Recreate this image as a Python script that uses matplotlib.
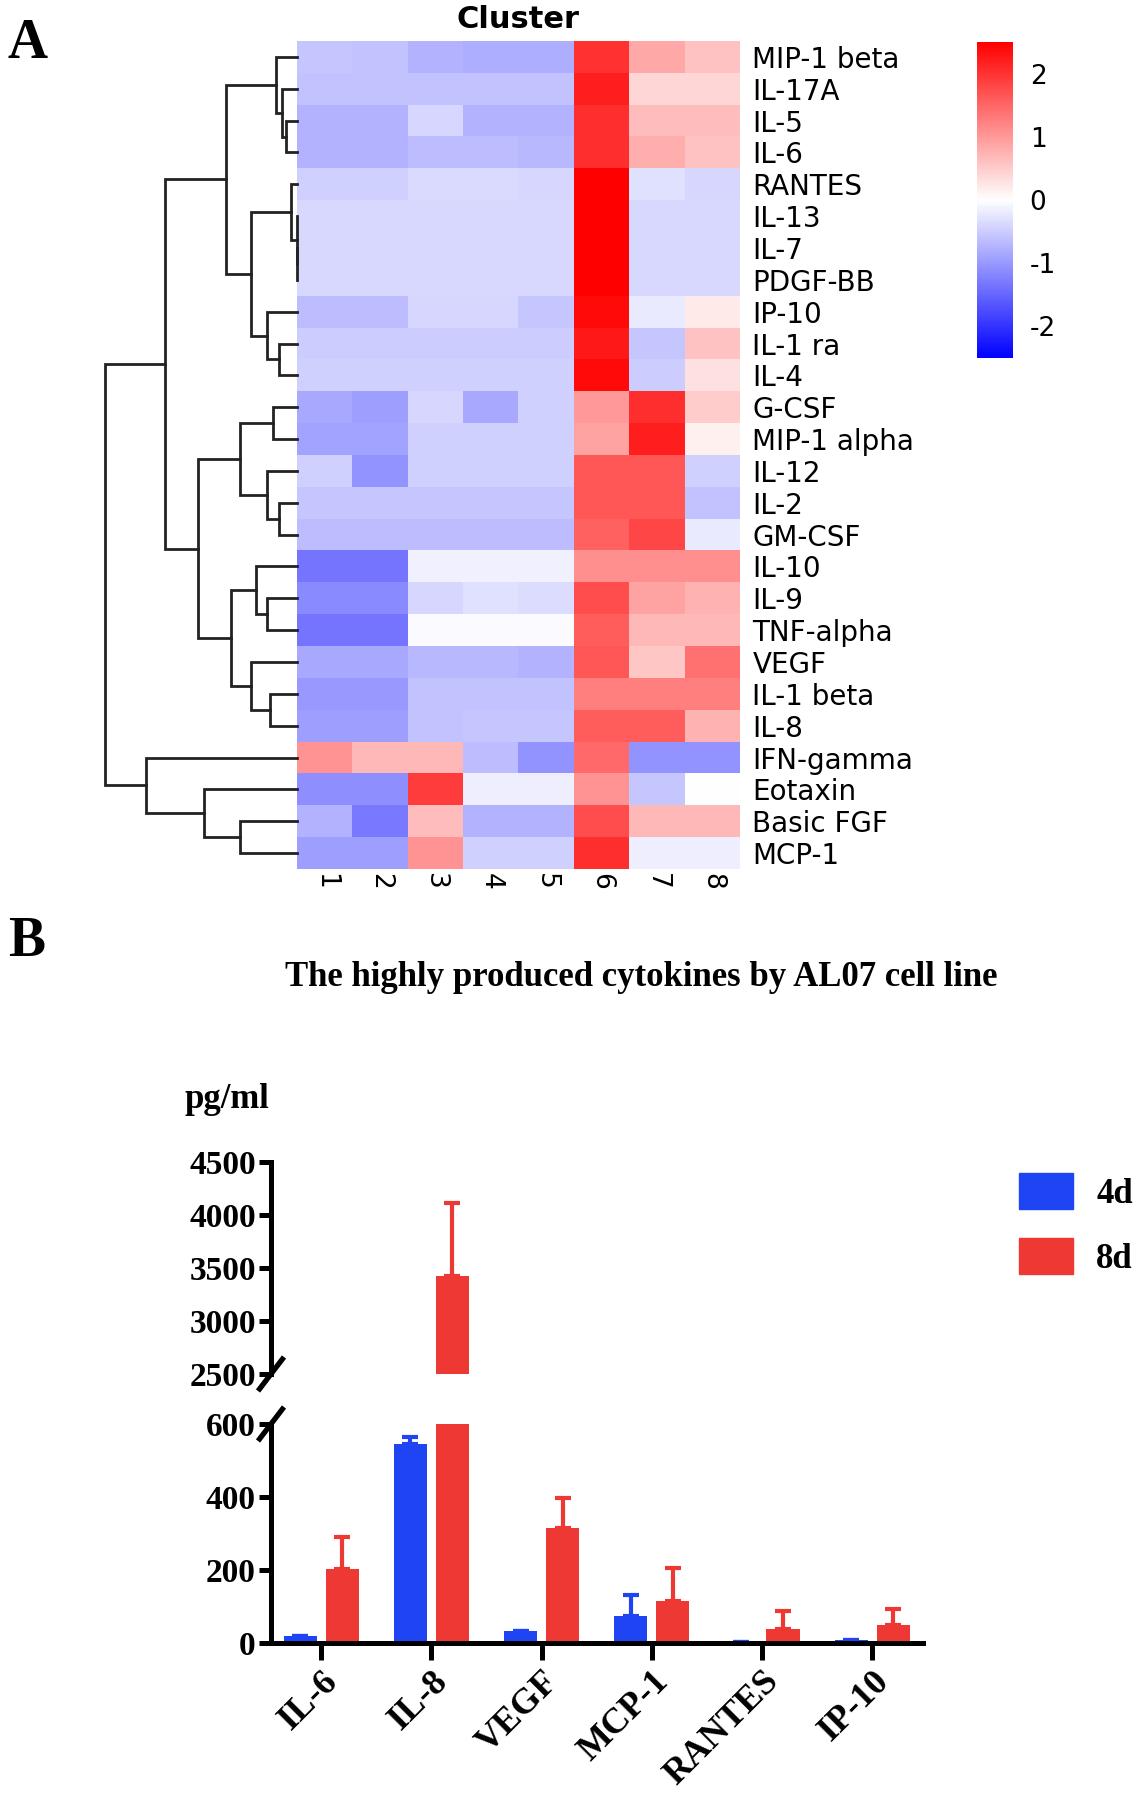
import numpy as np
import matplotlib
matplotlib.use('Agg')
import matplotlib.pyplot as plt
from matplotlib.colors import LinearSegmentedColormap
from matplotlib.patches import Patch

plt.rcParams['axes.unicode_minus'] = False

# ---- Panel A: z-scored cytokine levels per sample ----
cytokines = ['MIP-1 beta', 'IL-17A', 'IL-5', 'IL-6', 'RANTES', 'IL-13', 'IL-7',
             'PDGF-BB', 'IP-10', 'IL-1 ra', 'IL-4', 'G-CSF', 'MIP-1 alpha',
             'IL-12', 'IL-2', 'GM-CSF', 'IL-10', 'IL-9', 'TNF-alpha', 'VEGF',
             'IL-1 beta', 'IL-8', 'IFN-gamma', 'Eotaxin', 'Basic FGF', 'MCP-1']
samples = ['1', '2', '3', '4', '5', '6', '7', '8']
z_scores = [
    [-0.55, -0.60, -0.75, -0.80, -0.80, 2.00, 0.85, 0.60],
    [-0.60, -0.60, -0.60, -0.60, -0.60, 2.20, 0.40, 0.40],
    [-0.75, -0.75, -0.40, -0.75, -0.75, 2.05, 0.65, 0.65],
    [-0.75, -0.75, -0.65, -0.65, -0.70, 2.05, 0.80, 0.60],
    [-0.45, -0.45, -0.36, -0.36, -0.40, 2.60, -0.30, -0.40],
    [-0.38, -0.38, -0.38, -0.38, -0.38, 2.65, -0.38, -0.38],
    [-0.38, -0.38, -0.38, -0.38, -0.38, 2.65, -0.38, -0.38],
    [-0.38, -0.38, -0.38, -0.38, -0.38, 2.65, -0.38, -0.38],
    [-0.65, -0.65, -0.40, -0.40, -0.55, 2.40, -0.20, 0.20],
    [-0.50, -0.50, -0.50, -0.50, -0.50, 2.25, -0.55, 0.60],
    [-0.45, -0.45, -0.45, -0.45, -0.45, 2.40, -0.50, 0.30],
    [-0.85, -0.95, -0.40, -0.85, -0.45, 1.00, 2.05, 0.50],
    [-0.90, -0.90, -0.45, -0.45, -0.45, 0.90, 2.20, 0.15],
    [-0.45, -1.05, -0.45, -0.45, -0.45, 1.65, 1.65, -0.45],
    [-0.56, -0.56, -0.56, -0.56, -0.56, 1.65, 1.65, -0.60],
    [-0.65, -0.65, -0.65, -0.65, -0.65, 1.55, 1.80, -0.20],
    [-1.35, -1.35, -0.15, -0.15, -0.15, 1.10, 1.10, 1.10],
    [-1.15, -1.15, -0.40, -0.30, -0.35, 1.75, 0.90, 0.75],
    [-1.35, -1.35, -0.05, -0.05, -0.05, 1.60, 0.70, 0.70],
    [-0.85, -0.85, -0.70, -0.70, -0.75, 1.65, 0.55, 1.40],
    [-1.00, -1.00, -0.60, -0.60, -0.60, 1.25, 1.25, 1.25],
    [-0.95, -0.95, -0.60, -0.56, -0.56, 1.60, 1.60, 0.75],
    [1.05, 0.70, 0.70, -0.65, -1.05, 1.45, -1.05, -1.05],
    [-1.10, -1.10, 1.90, -0.17, -0.17, 1.05, -0.55, 0.00],
    [-0.75, -1.30, 0.65, -0.75, -0.75, 1.75, 0.70, 0.70],
    [-0.95, -0.95, 1.05, -0.45, -0.45, 2.05, -0.17, -0.17],
]
# row clustering: (child a, child b, height); leaves are 0-25, merges numbered from 26
row_linkage = [
    (2, 3, 28), (1, 26, 40), (0, 27, 56),
    (6, 7, 0), (5, 29, 0), (4, 30, 16),
    (9, 10, 48), (8, 32, 78), (31, 33, 121), (28, 34, 186),
    (11, 12, 63), (14, 15, 48), (13, 37, 78), (36, 38, 150),
    (17, 18, 78), (16, 40, 108), (20, 21, 70), (19, 42, 121),
    (41, 43, 173), (39, 44, 260), (35, 45, 346),
    (24, 25, 150), (23, 47, 243), (22, 48, 396), (46, 49, 503),
]

# ---- Panel B: highly produced cytokines (pg/ml) ----
cytokines_b = ['IL-6', 'IL-8', 'VEGF', 'MCP-1', 'RANTES', 'IP-10']
mean_4d = [20, 545, 32, 75, 4, 8]
err_4d = [0, 19, 0, 56, 0, 0]
mean_8d = [202, 3420, 316, 116, 38, 48]
err_8d = [88, 690, 80, 89, 49, 45]

fig = plt.figure(figsize=(11.4, 18), dpi=100)
W, H = 1140, 1800


def box(x0, y0, x1, y1):
    # pixel box (top-left origin) -> figure fraction rect
    return [x0 / W, 1 - y1 / H, (x1 - x0) / W, (y1 - y0) / H]


sans = 'DejaVu Sans'
serif = 'Liberation Serif'

# heatmap
ax_h = fig.add_axes(box(297, 41, 740, 869))
cmap = LinearSegmentedColormap.from_list('bwr_gp', ['#0000ff', '#ffffff', '#ff0000'])
im = ax_h.imshow(np.array(z_scores), cmap=cmap, vmin=-2.5, vmax=2.5,
                 aspect='auto', interpolation='nearest')
ax_h.set_xticks(range(len(samples)))
ax_h.set_xticklabels(samples, rotation=270, fontsize=19, family=sans, va='top')
ax_h.set_yticks(range(len(cytokines)))
ax_h.set_yticklabels(cytokines, fontsize=20, family=sans)
ax_h.yaxis.tick_right()
ax_h.tick_params(length=0)
ax_h.tick_params(axis='y', pad=9)
ax_h.tick_params(axis='x', pad=3)
for s in ax_h.spines.values():
    s.set_visible(False)
fig.text(518 / W, 1 - 19 / H, 'Cluster', ha='center', va='center',
         fontsize=22, fontweight='bold', family=sans)

# dendrogram
ax_d = fig.add_axes(box(105, 41, 297, 869))
n = len(cytokines)
pos = {i: float(i) for i in range(n)}
hgt = {i: 0.0 for i in range(n)}
for k, (a, b, h) in enumerate(row_linkage):
    ax_d.plot([hgt[a], h, h, hgt[b]], [pos[a], pos[a], pos[b], pos[b]],
              color='#222222', lw=2.0, clip_on=False, solid_joinstyle='miter')
    pos[n + k] = (pos[a] + pos[b]) / 2
    hgt[n + k] = h
ax_d.set_xlim(max(h for _, _, h in row_linkage), 0)
ax_d.set_ylim(n - 0.5, -0.5)
ax_d.axis('off')

# colorbar
cax = fig.add_axes(box(977, 42, 1013, 358))
cb = fig.colorbar(im, cax=cax, ticks=[-2, -1, 0, 1, 2])
cb.outline.set_visible(False)
cax.tick_params(length=0, pad=12, labelsize=19)
for t in cax.get_yticklabels():
    t.set_family(sans)

# panel letters
fig.text(28 / W, 1 - 44 / H, 'A', ha='center', va='center', fontsize=40,
         fontweight='bold', family=serif)
fig.text(27 / W, 1 - 942 / H, 'B', ha='center', va='center', fontsize=40,
         fontweight='bold', family=serif)

# ---- Panel B bars with broken y axis ----
blue = '#1e44f4'
red = '#ee3833'
x = np.arange(len(cytokines_b))
off, bw = 0.19, 0.30
ax_lo = fig.add_axes(box(271, 1424, 923, 1643))
ax_hi = fig.add_axes(box(271, 1162, 923, 1374))
for ax in (ax_lo, ax_hi):
    ax.bar(x - off, mean_4d, bw, color=blue, zorder=2)
    ax.bar(x + off, mean_8d, bw, color=red, zorder=2)
    ax.errorbar(x - off, mean_4d, yerr=[np.zeros(len(x)), err_4d], fmt='none',
                ecolor=blue, elinewidth=3, capsize=6, capthick=3, zorder=1)
    ax.errorbar(x + off, mean_8d, yerr=[np.zeros(len(x)), err_8d], fmt='none',
                ecolor=red, elinewidth=3, capsize=6, capthick=3, zorder=1)
    ax.set_xlim(-0.455, len(x) - 0.54)
    ax.spines['top'].set_visible(False)
    ax.spines['right'].set_visible(False)
    ax.spines['left'].set_linewidth(3.6)
    ax.spines['bottom'].set_linewidth(3.6)
    ax.tick_params(width=3.6, length=9, pad=2)

ax_lo.set_ylim(0, 600)
ax_lo.set_yticks([0, 200, 400, 600])
ax_hi.set_ylim(2500, 4500)
ax_hi.set_yticks([2500, 3000, 3500, 4000, 4500])
ax_hi.spines['bottom'].set_visible(False)
ax_hi.set_xticks([])
for ax in (ax_lo, ax_hi):
    for t in ax.get_yticklabels():
        t.set_family(serif)
        t.set_fontweight('bold')
        t.set_fontsize(24)

ax_lo.set_xticks(x)
ax_lo.set_xticklabels(cytokines_b, rotation=45, ha='right', va='top',
                      rotation_mode='anchor', fontsize=26, fontweight='bold',
                      family=serif)
ax_lo.tick_params(axis='x', length=12, pad=4)

# break marks on the y axis
dx = 13 / 652
for ax, hpx, ypos in ((ax_hi, 212, 0.0), (ax_lo, 219, 1.0)):
    dy = 17 / hpx
    ax.plot([-dx, dx], [ypos - dy, ypos + dy], transform=ax.transAxes,
            color='black', lw=3.8, clip_on=False, solid_capstyle='butt')

fig.text(641 / W, 1 - 978 / H, 'The highly produced cytokines by AL07 cell line',
         ha='center', va='center', fontsize=25, fontweight='bold', family=serif)
fig.text(227 / W, 1 - 1100 / H, 'pg/ml', ha='center', va='center', fontsize=25,
         fontweight='bold', family=serif)

handles = [Patch(color=blue, label='4d'), Patch(color=red, label='8d')]
fig.legend(handles=handles, loc='upper left', bbox_to_anchor=(1019 / W, 1 - 1173 / H),
           frameon=False, borderpad=0, borderaxespad=0, handlelength=1.56,
           handleheight=1.2, labelspacing=0.8, handletextpad=0.66,
           prop={'family': serif, 'weight': 'bold', 'size': 25})

fig.savefig('out.png', dpi=100)
